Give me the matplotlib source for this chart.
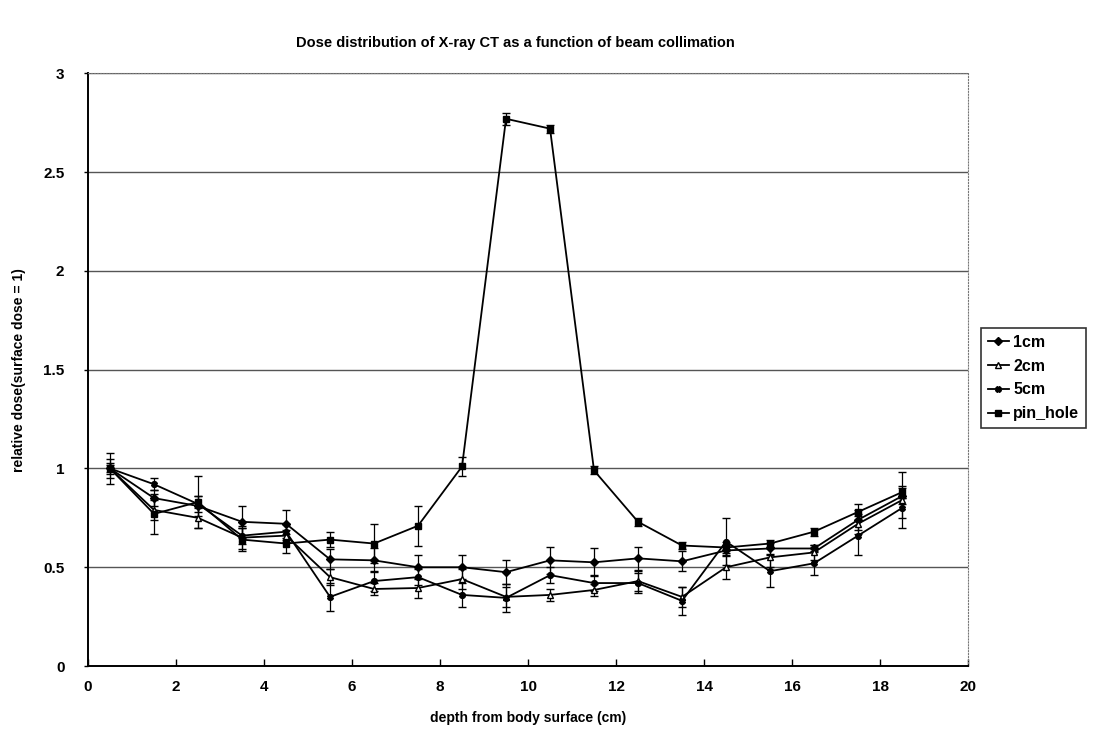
import matplotlib
matplotlib.use("Agg")
import matplotlib.pyplot as plt
from matplotlib.lines import Line2D
from matplotlib.ticker import MultipleLocator, FuncFormatter

plt.rcParams["font.family"] = ["Liberation Sans", "DejaVu Sans"]

# depth of each measuring point (cm)
depth = [0.5, 1.5, 2.5, 3.5, 4.5, 5.5, 6.5, 7.5, 8.5, 9.5,
         10.5, 11.5, 12.5, 13.5, 14.5, 15.5, 16.5, 17.5, 18.5]

dose_1cm = [1.00, 0.85, 0.81, 0.73, 0.72, 0.54, 0.535, 0.50, 0.50, 0.475,
            0.535, 0.525, 0.545, 0.53, 0.585, 0.595, 0.595, 0.74, 0.86]
err_1cm = [0.08, 0.04, 0.05, 0.08, 0.07, 0.05, 0.06, 0.06, 0.06, 0.06,
           0.07, 0.07, 0.06, 0.05, 0.03, 0.03, 0.02, 0.05, 0.04]

dose_2cm = [1.00, 0.79, 0.75, 0.65, 0.66, 0.45, 0.39, 0.395, 0.44, 0.35,
            0.36, 0.385, 0.43, 0.35, 0.50, 0.55, 0.575, 0.72, 0.84]
err_2cm = [0.05, 0.05, 0.05, 0.06, 0.03, 0.04, 0.03, 0.05, 0.05, 0.05,
           0.03, 0.03, 0.05, 0.05, 0.06, 0.05, 0.04, 0.05, 0.14]

dose_5cm = [1.00, 0.92, 0.82, 0.66, 0.68, 0.35, 0.43, 0.45, 0.36, 0.345,
            0.46, 0.42, 0.42, 0.33, 0.63, 0.48, 0.52, 0.66, 0.80]
err_5cm = [0.03, 0.03, 0.04, 0.04, 0.04, 0.07, 0.05, 0.04, 0.06, 0.07,
           0.04, 0.04, 0.05, 0.07, 0.12, 0.08, 0.06, 0.10, 0.05]

dose_pin = [1.00, 0.77, 0.83, 0.64, 0.62, 0.64, 0.62, 0.71, 1.01, 2.77,
            2.72, 0.99, 0.73, 0.61, 0.60, 0.62, 0.68, 0.78, 0.88]
err_pin = [0.02, 0.10, 0.13, 0.06, 0.05, 0.04, 0.10, 0.10, 0.05, 0.03,
           0.02, 0.02, 0.02, 0.02, 0.03, 0.02, 0.02, 0.04, 0.03]

series = [
    ("1cm", dose_1cm, err_1cm, "D", "black"),
    ("2cm", dose_2cm, err_2cm, "^", "white"),
    ("5cm", dose_5cm, err_5cm, "X", "black"),
    ("pin_hole", dose_pin, err_pin, "s", "black"),
]

fig = plt.figure(figsize=(11.1, 7.56), dpi=100)
ax = fig.add_axes([0.0793, 0.119, 0.7928, 0.784])

handles = []
for label, y, e, mk, face in series:
    ax.errorbar(depth, y, yerr=e, color="black", lw=1.3, marker=mk, ms=4,
                mfc=face, mec="black", mew=1.0, ecolor="black", elinewidth=0.9,
                capsize=3, capthick=0.9, zorder=3)
    handles.append(Line2D([], [], color="black", lw=1.3, marker=mk, ms=4,
                          mfc=face, mec="black", mew=1.0, label=label))

ax.set_xlim(0, 20)
ax.set_ylim(0, 3)
ax.xaxis.set_major_locator(MultipleLocator(2))
ax.yaxis.set_major_locator(MultipleLocator(0.5))
ax.yaxis.set_major_formatter(FuncFormatter(lambda v, _: f"{v:g}"))
ax.yaxis.grid(True, color="#555555", lw=1.0)
ax.set_axisbelow(True)
ax.tick_params(axis="x", direction="in", length=5, width=1, labelsize=11, pad=10)
ax.tick_params(axis="y", direction="out", length=3, width=1, labelsize=11, pad=14)
for lab in ax.get_xticklabels() + ax.get_yticklabels():
    lab.set_fontweight("bold")

for side in ("top", "right"):
    ax.spines[side].set_linestyle(":")
    ax.spines[side].set_linewidth(0.8)
    ax.spines[side].set_color("#777777")
for side in ("left", "bottom"):
    ax.spines[side].set_linewidth(1.4)

ax.set_xlabel("depth from body surface (cm)", fontsize=10, fontweight="bold", labelpad=12)
ax.set_ylabel("relative dose(surface dose = 1)", fontsize=10, fontweight="bold", labelpad=12)
fig.suptitle("Dose distribution of X-ray CT as a function of beam collimation",
             x=0.464, y=0.953, fontsize=10.5, fontweight="bold")

leg = ax.legend(handles=handles, loc="center left", bbox_to_anchor=(0.877, 0.5),
                bbox_transform=fig.transFigure, fontsize=11.5, frameon=True,
                fancybox=False, edgecolor="black", handlelength=1.3,
                borderpad=0.4, labelspacing=0.55, handletextpad=0.3)
leg.get_frame().set_linewidth(1.2)
for t in leg.get_texts():
    t.set_fontweight("bold")

fig.savefig("out.png", dpi=100)
